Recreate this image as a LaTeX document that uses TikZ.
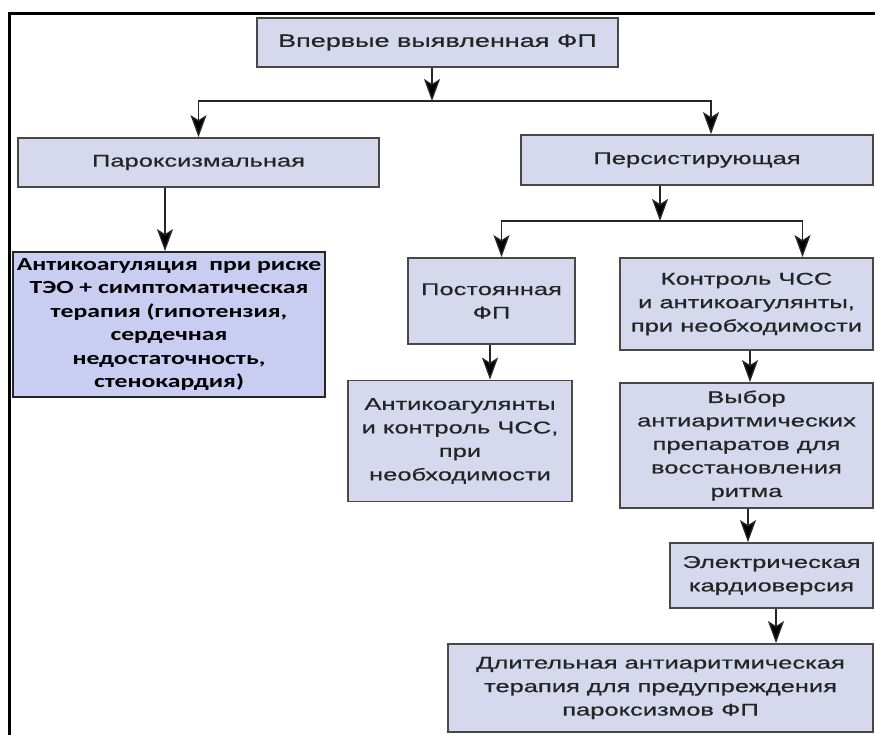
\documentclass[tikz,border=0pt]{standalone}
\usepackage{fontspec}
\newfontfamily\regf{Liberation Sans}[FakeStretch=1.5,FakeBold=0.6]
\newfontfamily\boldf{Carlito}[FakeStretch=1.39]
\usetikzlibrary{arrows.meta}
\definecolor{boxfill}{HTML}{D6D8EE}
\definecolor{boxfillb}{HTML}{C9CDF2}
\definecolor{boxline}{HTML}{484848}
\definecolor{txt}{HTML}{242424}
\begin{document}
\begin{tikzpicture}[x=1pt,y=-1pt,
 box/.style={draw=boxline,line width=1.8pt,fill=boxfill,inner sep=0pt,align=center,text=txt,font=\regf\fontsize{17}{23.5}\selectfont},
 bbox/.style={draw=black!85,line width=1.8pt,fill=boxfillb,inner sep=0pt,align=center,text=black,font=\boldf\bfseries\fontsize{18.5}{23.5}\selectfont},
 arr/.style={draw=black!85,line width=1.4pt,-{Stealth[length=22pt,width=16pt,inset=5pt,fill=black]}},
]
\path[fill=white] (0,0) rectangle (875,735);
\useasboundingbox (0,0) rectangle (875,735);
\draw[line width=3pt] (9.5,740) -- (9.5,13.5) -- (880,13.5);

\node[box,minimum width=361pt,minimum height=49pt,font=\regf\fontsize{18}{23.5}\selectfont] (top) at (437.5,42.5) {Впервые выявленная ФП};
\node[box,minimum width=361pt,minimum height=49pt] (par) at (198.5,162.5) {Пароксизмальная};
\node[box,minimum width=352pt,minimum height=50pt] (pers) at (697,160) {Персистирующая};
\node[bbox,minimum width=312pt,minimum height=145pt] (anti) at (169,324.5) {Антикоагуляция \ при риске\\ТЭО + симптоматическая\\терапия (гипотензия,\\сердечная\\недостаточность,\\стенокардия)};
\node[box,minimum width=167pt,minimum height=86pt] (const) at (491.5,301) {Постоянная\\ФП};
\node[box,minimum width=253pt,minimum height=92pt] (ctrl) at (746.5,304) {Контроль ЧСС\\и антикоагулянты,\\при необходимости};
\node[box,minimum width=224pt,minimum height=121pt] (anti2) at (460,441) {Антикоагулянты\\и контроль ЧСС,\\при\\необходимости};
\node[box,minimum width=253pt,minimum height=125pt] (choice) at (746.5,445.5) {Выбор\\антиаритмических\\препаратов для\\восстановления\\ритма};
\node[box,minimum width=203pt,minimum height=65pt] (elec) at (771.5,575.5) {Электрическая\\кардиоверсия};
\node[box,minimum width=425pt,minimum height=88pt] (long) at (660.5,688) {Длительная антиаритмическая\\терапия для предупреждения\\пароксизмов ФП};

\coordinate (j1) at (432,101);
\coordinate (j2) at (660,221);
\draw[arr] (top.south -| j1) -- (j1);
\draw[arr] (j1) -| (par.north);
\draw[arr] (j1) -| ([xshift=14pt]pers.north);
\draw[arr] ([xshift=-4pt]anti.north |- par.south) -- ([xshift=-4pt]anti.north);
\draw[arr] (pers.south -| j2) -- (j2);
\draw[arr] (j2) -| ([xshift=10pt]const.north);
\draw[arr] (j2) -| ([xshift=56pt]ctrl.north);
\draw[arr] ([xshift=-1.5pt]const.south) -- ([xshift=-1.5pt]const.south |- anti2.north);
\draw[arr] ([xshift=3.5pt]ctrl.south) -- ([xshift=3.5pt]ctrl.south |- choice.north);
\draw[arr] ([xshift=1.5pt]choice.south) -- ([xshift=1.5pt]choice.south |- elec.north);
\draw[arr] ([xshift=4.5pt]elec.south) -- ([xshift=4.5pt]elec.south |- long.north);
\end{tikzpicture}
\end{document}
